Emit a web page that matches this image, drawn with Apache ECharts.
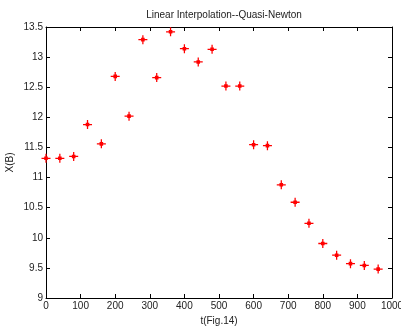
<!DOCTYPE html>
<html>
<head>
<meta charset="utf-8">
<script src="https://cdn.jsdelivr.net/npm/echarts@6/dist/echarts.min.js"></script>
<style>html,body{margin:0;padding:0;background:#fff}#c{width:401px;height:328px}</style>
</head>
<body>
<div id="c"></div>
<script>
const tValues = [0, 40, 80, 120, 160, 200, 240, 280, 320, 360, 400, 440, 480, 520, 560, 600, 640, 680, 720, 760, 800, 840, 880, 920, 960];
const xbValues = [11.32, 11.32, 11.35, 11.88, 11.56, 12.68, 12.02, 13.29, 12.66, 13.42, 13.14, 12.92, 13.13, 12.52, 12.52, 11.545, 11.53, 10.88, 10.59, 10.24, 9.905, 9.71, 9.57, 9.54, 9.48];
const titleText = 'Linear Interpolation--Quasi-Newton';
const xName = 't(Fig.14)';
const yName = 'X(B)';

const font = 'Liberation Sans, Arial, Helvetica, sans-serif';
const chart = echarts.init(document.getElementById('c'), null, {renderer: 'canvas'});
const axisLine = {show: true, onZero: false, lineStyle: {color: '#000', width: 1}};
const axisTick = {show: true, inside: true, length: 4, lineStyle: {color: '#000'}};
chart.setOption({
  animation: false,
  backgroundColor: '#fff',
  title: {text: titleText, left: 219, top: 5, textAlign: 'center',
    textStyle: {fontFamily: font, fontSize: 10, fontWeight: 'normal', color: '#222'}},
  grid: {left: 46, right: 9, top: 27, bottom: 30, containLabel: false, outerBoundsMode: 'none'},
  xAxis: [
    {type: 'value', min: 0, max: 1000, interval: 100, position: 'bottom',
     name: xName, nameLocation: 'middle', nameGap: 18, nameMoveOverlap: false,
     nameTextStyle: {fontFamily: font, fontSize: 10, color: '#222'},
     axisLine, axisTick, splitLine: {show: false},
     axisLabel: {fontFamily: font, fontSize: 10, color: '#222', margin: 3, formatter: v => String(v), hideOverlap: false}},
    {type: 'value', min: 0, max: 1000, interval: 100, position: 'top',
     axisLine, axisTick, splitLine: {show: false}, axisLabel: {show: false}}
  ],
  yAxis: [
    {type: 'value', min: 9, max: 13.5, interval: 0.5, position: 'left',
     name: yName, nameLocation: 'middle', nameGap: 31, nameRotate: 90, nameMoveOverlap: false,
     nameTextStyle: {fontFamily: font, fontSize: 10, color: '#222'},
     axisLine, axisTick, splitLine: {show: false},
     axisLabel: {fontFamily: font, fontSize: 10, color: '#222', margin: 3, formatter: v => String(v)}},
    {type: 'value', min: 9, max: 13.5, interval: 0.5, position: 'right',
     axisLine, axisTick, splitLine: {show: false}, axisLabel: {show: false}}
  ],
  series: [{
    type: 'scatter',
    xAxisIndex: 0, yAxisIndex: 0,
    data: tValues.map((t, i) => [t, xbValues[i]]),
    symbol: 'path://M4.3,0 L5.7,0 L5.7,4.3 L10,4.3 L10,5.7 L5.7,5.7 L5.7,10 L4.3,10 L4.3,5.7 L0,5.7 L0,4.3 L4.3,4.3 Z M3,3 L7,3 L7,7 L3,7 Z',
    symbolSize: 9,
    itemStyle: {color: '#ff0000', opacity: 1}
  }]
});
</script>
</body>
</html>
